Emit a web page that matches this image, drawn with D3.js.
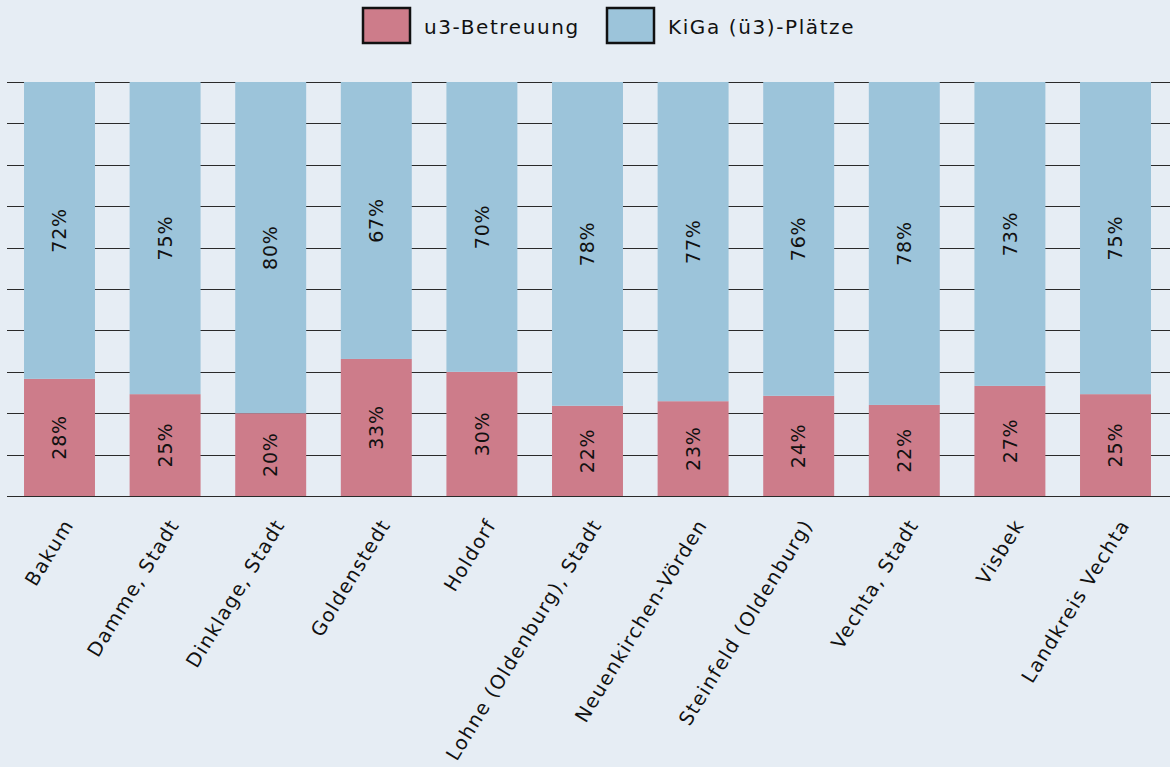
<!DOCTYPE html>
<html><head><meta charset="utf-8">
<script src="https://cdn.jsdelivr.net/npm/d3@7"></script>
<style>
html,body{margin:0;padding:0;background:#e6edf4;}
svg{display:block;font-family:"DejaVu Sans","Noto Sans",sans-serif;}
</style></head>
<body>
<svg id="chart" width="1170" height="767"></svg>
<script>
const categories = ["Bakum","Damme, Stadt","Dinklage, Stadt","Goldenstedt","Holdorf","Lohne (Oldenburg), Stadt","Neuenkirchen-Vörden","Steinfeld (Oldenburg)","Vechta, Stadt","Visbek","Landkreis Vechta"];
const u3Values = [28.3, 24.6, 20.0, 33.1, 30.0, 21.8, 22.9, 24.2, 22.0, 26.6, 24.6];
const kigaValues = [71.7, 75.4, 80.0, 66.9, 70.0, 78.2, 77.1, 75.8, 78.0, 73.4, 75.4];
const seriesNames = ["u3-Betreuung","KiGa (ü3)-Plätze"];
const yTicks = [0,10,20,30,40,50,60,70,80,90,100];

const W = 1170, H = 767;
const colors = ["#cd7c8a","#9cc4da"];
const svg = d3.select("#chart");
svg.append("rect").attr("width",W).attr("height",H).attr("fill","#e6edf4");

const x = d3.scaleBand().domain(categories).range([6.7,1168.3]).paddingInner(0.328).paddingOuter(0.164);
const y = d3.scaleLinear().domain([0,100]).range([496,82]);

// gridlines
svg.append("g").selectAll("line").data(yTicks).join("line")
  .attr("x1",7).attr("x2",1170)
  .attr("y1",d=>Math.round(y(d))+0.5).attr("y2",d=>Math.round(y(d))+0.5)
  .attr("stroke","#2a2a2a").attr("stroke-width",1.2);

const rows = categories.map((c,i)=>({cat:c, u3:u3Values[i], kiga:kigaValues[i]}));
const stack = d3.stack().keys(["u3","kiga"])(rows);

const g = svg.append("g");
stack.forEach((layer,li)=>{
  g.append("g").selectAll("rect").data(layer).join("rect")
    .attr("x",d=>x(d.data.cat))
    .attr("width",x.bandwidth())
    .attr("y",d=>y(d[1]))
    .attr("height",d=>y(d[0])-y(d[1]))
    .attr("fill",colors[li]);
  g.append("g").selectAll("text").data(layer).join("text")
    .attr("transform",d=>`translate(${x(d.data.cat)+x.bandwidth()/2},${(y(d[0])+y(d[1]))/2}) rotate(-90)`)
    .attr("text-anchor","middle").attr("dy","0.35em")
    .attr("font-size",19).attr("letter-spacing",0.8).attr("fill","#111")
    .text(d=>Math.round(d[1]-d[0])+"%");
});

// x labels
svg.append("g").selectAll("text").data(categories).join("text")
  .attr("transform",d=>`translate(${x(d)+x.bandwidth()/2+9},${521}) rotate(-58.5)`)
  .attr("text-anchor","end").attr("dy","0.35em")
  .attr("font-size",19.5).attr("letter-spacing",1.3).attr("fill","#111")
  .text(d=>d);

// legend
const legend = svg.append("g");
const legX = [363,607];
seriesNames.forEach((n,i)=>{
  legend.append("rect").attr("x",legX[i]).attr("y",8).attr("width",47).attr("height",35)
    .attr("fill",colors[i]).attr("stroke","#111").attr("stroke-width",2.5);
  legend.append("text").attr("x",legX[i]+61).attr("y",27).attr("dy","0.35em")
    .attr("font-size",20).attr("letter-spacing",1.6).attr("fill","#111").text(n);
});
</script>
</body></html>
